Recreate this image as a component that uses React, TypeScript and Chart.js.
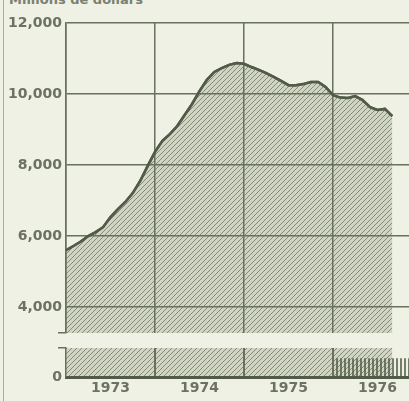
import React, { useEffect, useRef } from 'react';
import { Chart, registerables } from 'chart.js';
Chart.register(...registerables);

// Months since January 1973
const months = [
  0, 1, 2, 3, 4, 5, 6, 7, 8, 9, 10, 11,
  12, 13, 14, 15, 16, 17, 18, 19, 20, 21, 22, 23,
  24, 25, 26, 27, 28, 29, 30, 31, 32, 33, 34, 35,
  36, 37, 38, 39, 40, 41, 42, 43, 44,
];
// Millions de dollars
const reserves = [
  5600, 5720, 5845, 6000, 6110, 6250, 6535, 6760, 6960, 7210, 7550, 7970,
  8370, 8680, 8870, 9100, 9410, 9720, 10080, 10400, 10620, 10730, 10820, 10870,
  10850, 10760, 10680, 10590, 10480, 10370, 10250, 10250, 10280, 10340, 10340, 10200,
  9970, 9900, 9890, 9940, 9830, 9630, 9550, 9580, 9380,
];
const yearLabels = ['1973', '1974', '1975', '1976'];
const yearStarts = [0, 12, 24, 36];
const yearMids = [6, 18, 30, 42];
const yTicks = [4000, 6000, 8000, 10000, 12000];
const upperMin = 3270;
const upperMax = 12000;
const lowerMax = 800;
const xMax = 46.25;
const stripeMonths = [36, 47];
const stripeLevel = [520, 520];

const BG = '#eef1e3';
const GRID = '#67715c';
const LINE = '#525b48';
const TEXT = '#6b7164';

function hatch(bg: string | null, line: string, size: number, vertical: boolean) {
  const c = document.createElement('canvas');
  c.width = size;
  c.height = size;
  const g = c.getContext('2d')!;
  if (bg) {
    g.fillStyle = bg;
    g.fillRect(0, 0, size, size);
  }
  g.strokeStyle = line;
  g.lineWidth = vertical ? 1.6 : 1;
  g.beginPath();
  if (vertical) {
    g.moveTo(1, 0);
    g.lineTo(1, size);
  } else {
    g.moveTo(0, size);
    g.lineTo(size, 0);
    g.moveTo(-1, 1);
    g.lineTo(1, -1);
    g.moveTo(size - 1, size + 1);
    g.lineTo(size + 1, size - 1);
  }
  g.stroke();
  return g.createPattern(c, 'repeat')!;
}

// Redraws the data line above the grid layer so the gridlines pass under it.
const lineOnTop = {
  id: 'lineOnTop',
  afterDraw(chart: any) {
    const meta = chart.getDatasetMeta(0);
    if (!meta || !meta.dataset) return;
    const ctx = chart.ctx;
    ctx.save();
    meta.dataset.draw(ctx, chart.chartArea);
    ctx.restore();
  },
};

export default function App() {
  const upRef = useRef<HTMLCanvasElement>(null);
  const lowRef = useRef<HTMLCanvasElement>(null);

  useEffect(() => {
    const diag = hatch('#d0d4c3', '#858b78', 5, false);
    const vert = hatch(null, '#56604b', 4, true);
    const pts = months.map((m, i) => ({ x: m, y: reserves[i] }));

    const up = new Chart(upRef.current!, {
      type: 'line',
      data: {
        datasets: [
          {
            data: pts,
            borderColor: LINE,
            borderWidth: 2.5,
            pointRadius: 0,
            fill: 'start',
            backgroundColor: diag,
            tension: 0,
            clip: 0,
          } as any,
        ],
      },
      plugins: [lineOnTop],
      options: {
        animation: false,
        responsive: false,
        maintainAspectRatio: false,
        layout: { padding: { top: 23, right: 0, bottom: 7, left: 0 } },
        plugins: { legend: { display: false }, tooltip: { enabled: false } },
        scales: {
          x: {
            type: 'linear',
            min: 0,
            max: xMax,
            afterBuildTicks: (s: any) => {
              s.ticks = yearStarts.map((v) => ({ value: v }));
            },
            ticks: { display: false },
            grid: { color: GRID, lineWidth: 1.5, drawTicks: false, z: 1 },
            border: { display: false },
          },
          y: {
            min: upperMin,
            max: upperMax,
            afterBuildTicks: (s: any) => {
              s.ticks = [upperMin, ...yTicks].map((v) => ({ value: v }));
            },
            afterFit: (s: any) => {
              s.width = 66;
            },
            ticks: {
              callback: (v: any) => (v === upperMin ? '' : Number(v).toLocaleString('en-US')),
              font: { family: 'DejaVu Sans', size: 14, weight: 'bold' },
              color: TEXT,
              padding: -4,
            },
            grid: {
              z: 1,
              color: (c: any) => (c.tick && c.tick.value === upperMin ? 'rgba(0,0,0,0)' : GRID),
              tickColor: (c: any) => (c.tick && c.tick.value === upperMin ? GRID : 'rgba(0,0,0,0)'),
              tickLength: 8,
              lineWidth: 1.5,
            },
            border: { color: GRID, width: 1.5, z: 1 },
          },
        },
      } as any,
    });

    const low = new Chart(lowRef.current!, {
      type: 'line',
      data: {
        datasets: [
          {
            data: pts,
            borderWidth: 0,
            pointRadius: 0,
            fill: 'start',
            backgroundColor: diag,
            tension: 0,
            clip: 0,
            order: 1,
          } as any,
          {
            data: stripeMonths.map((m, i) => ({ x: m, y: stripeLevel[i] })),
            borderWidth: 0,
            pointRadius: 0,
            fill: 'start',
            backgroundColor: vert,
            clip: 0,
            order: 0,
          } as any,
        ],
      },
      options: {
        animation: false,
        responsive: false,
        maintainAspectRatio: false,
        layout: { padding: { top: 8, right: 0, bottom: 0, left: 0 } },
        plugins: { legend: { display: false }, tooltip: { enabled: false } },
        scales: {
          x: {
            type: 'linear',
            min: 0,
            max: xMax,
            afterBuildTicks: (s: any) => {
              s.ticks = [...yearStarts, ...yearMids].sort((a, b) => a - b).map((v) => ({ value: v }));
            },
            afterFit: (s: any) => {
              s.height = 24;
            },
            ticks: {
              autoSkip: false,
              maxRotation: 0,
              callback: (v: any) => {
                const i = yearMids.indexOf(Number(v));
                return i >= 0 ? yearLabels[i] : '';
              },
              font: { family: 'DejaVu Sans', size: 14, weight: 'bold' },
              color: TEXT,
              padding: 3,
            },
            grid: {
              z: 1,
              color: (c: any) =>
                c.tick && yearStarts.indexOf(c.tick.value) > 0 ? GRID : 'rgba(0,0,0,0)',
              lineWidth: 2,
              drawTicks: false,
            },
            border: { display: true, color: LINE, width: 3, z: 1 },
          },
          y: {
            min: 0,
            max: lowerMax,
            afterBuildTicks: (s: any) => {
              s.ticks = [0, lowerMax].map((v) => ({ value: v }));
            },
            afterFit: (s: any) => {
              s.width = 66;
            },
            ticks: {
              callback: (v: any) => (v === 0 ? '0' : ''),
              font: { family: 'DejaVu Sans', size: 14, weight: 'bold' },
              color: TEXT,
              padding: -4,
            },
            grid: {
              z: 1,
              color: 'rgba(0,0,0,0)',
              tickColor: (c: any) => (c.tick && c.tick.value === lowerMax ? GRID : 'rgba(0,0,0,0)'),
              tickLength: 8,
              lineWidth: 1.5,
            },
            border: { color: GRID, width: 1.5, z: 1 },
          },
        },
      } as any,
    });

    return () => {
      up.destroy();
      low.destroy();
    };
  }, []);

  return (
    <div
      style={{
        position: 'fixed',
        left: 0,
        top: 0,
        width: 409,
        height: 401,
        background: BG,
        overflow: 'hidden',
      }}
    >
      <div
        style={{
          position: 'absolute',
          left: 3,
          top: 0,
          width: 0,
          height: 401,
          borderLeft: '1.5px solid #aab09f',
        }}
      />
      <div
        style={{
          position: 'absolute',
          left: 9,
          top: -7,
          fontFamily: 'DejaVu Sans',
          fontWeight: 'bold',
          fontSize: 13,
          lineHeight: '13px',
          color: '#7a8072',
          whiteSpace: 'nowrap',
        }}
      >
        Millions de dollars
      </div>
      <canvas
        ref={upRef}
        width={409}
        height={340}
        style={{ position: 'absolute', left: 0, top: 0, width: 409, height: 340 }}
      />
      <canvas
        ref={lowRef}
        width={409}
        height={61}
        style={{ position: 'absolute', left: 0, top: 340, width: 409, height: 61 }}
      />
    </div>
  );
}
